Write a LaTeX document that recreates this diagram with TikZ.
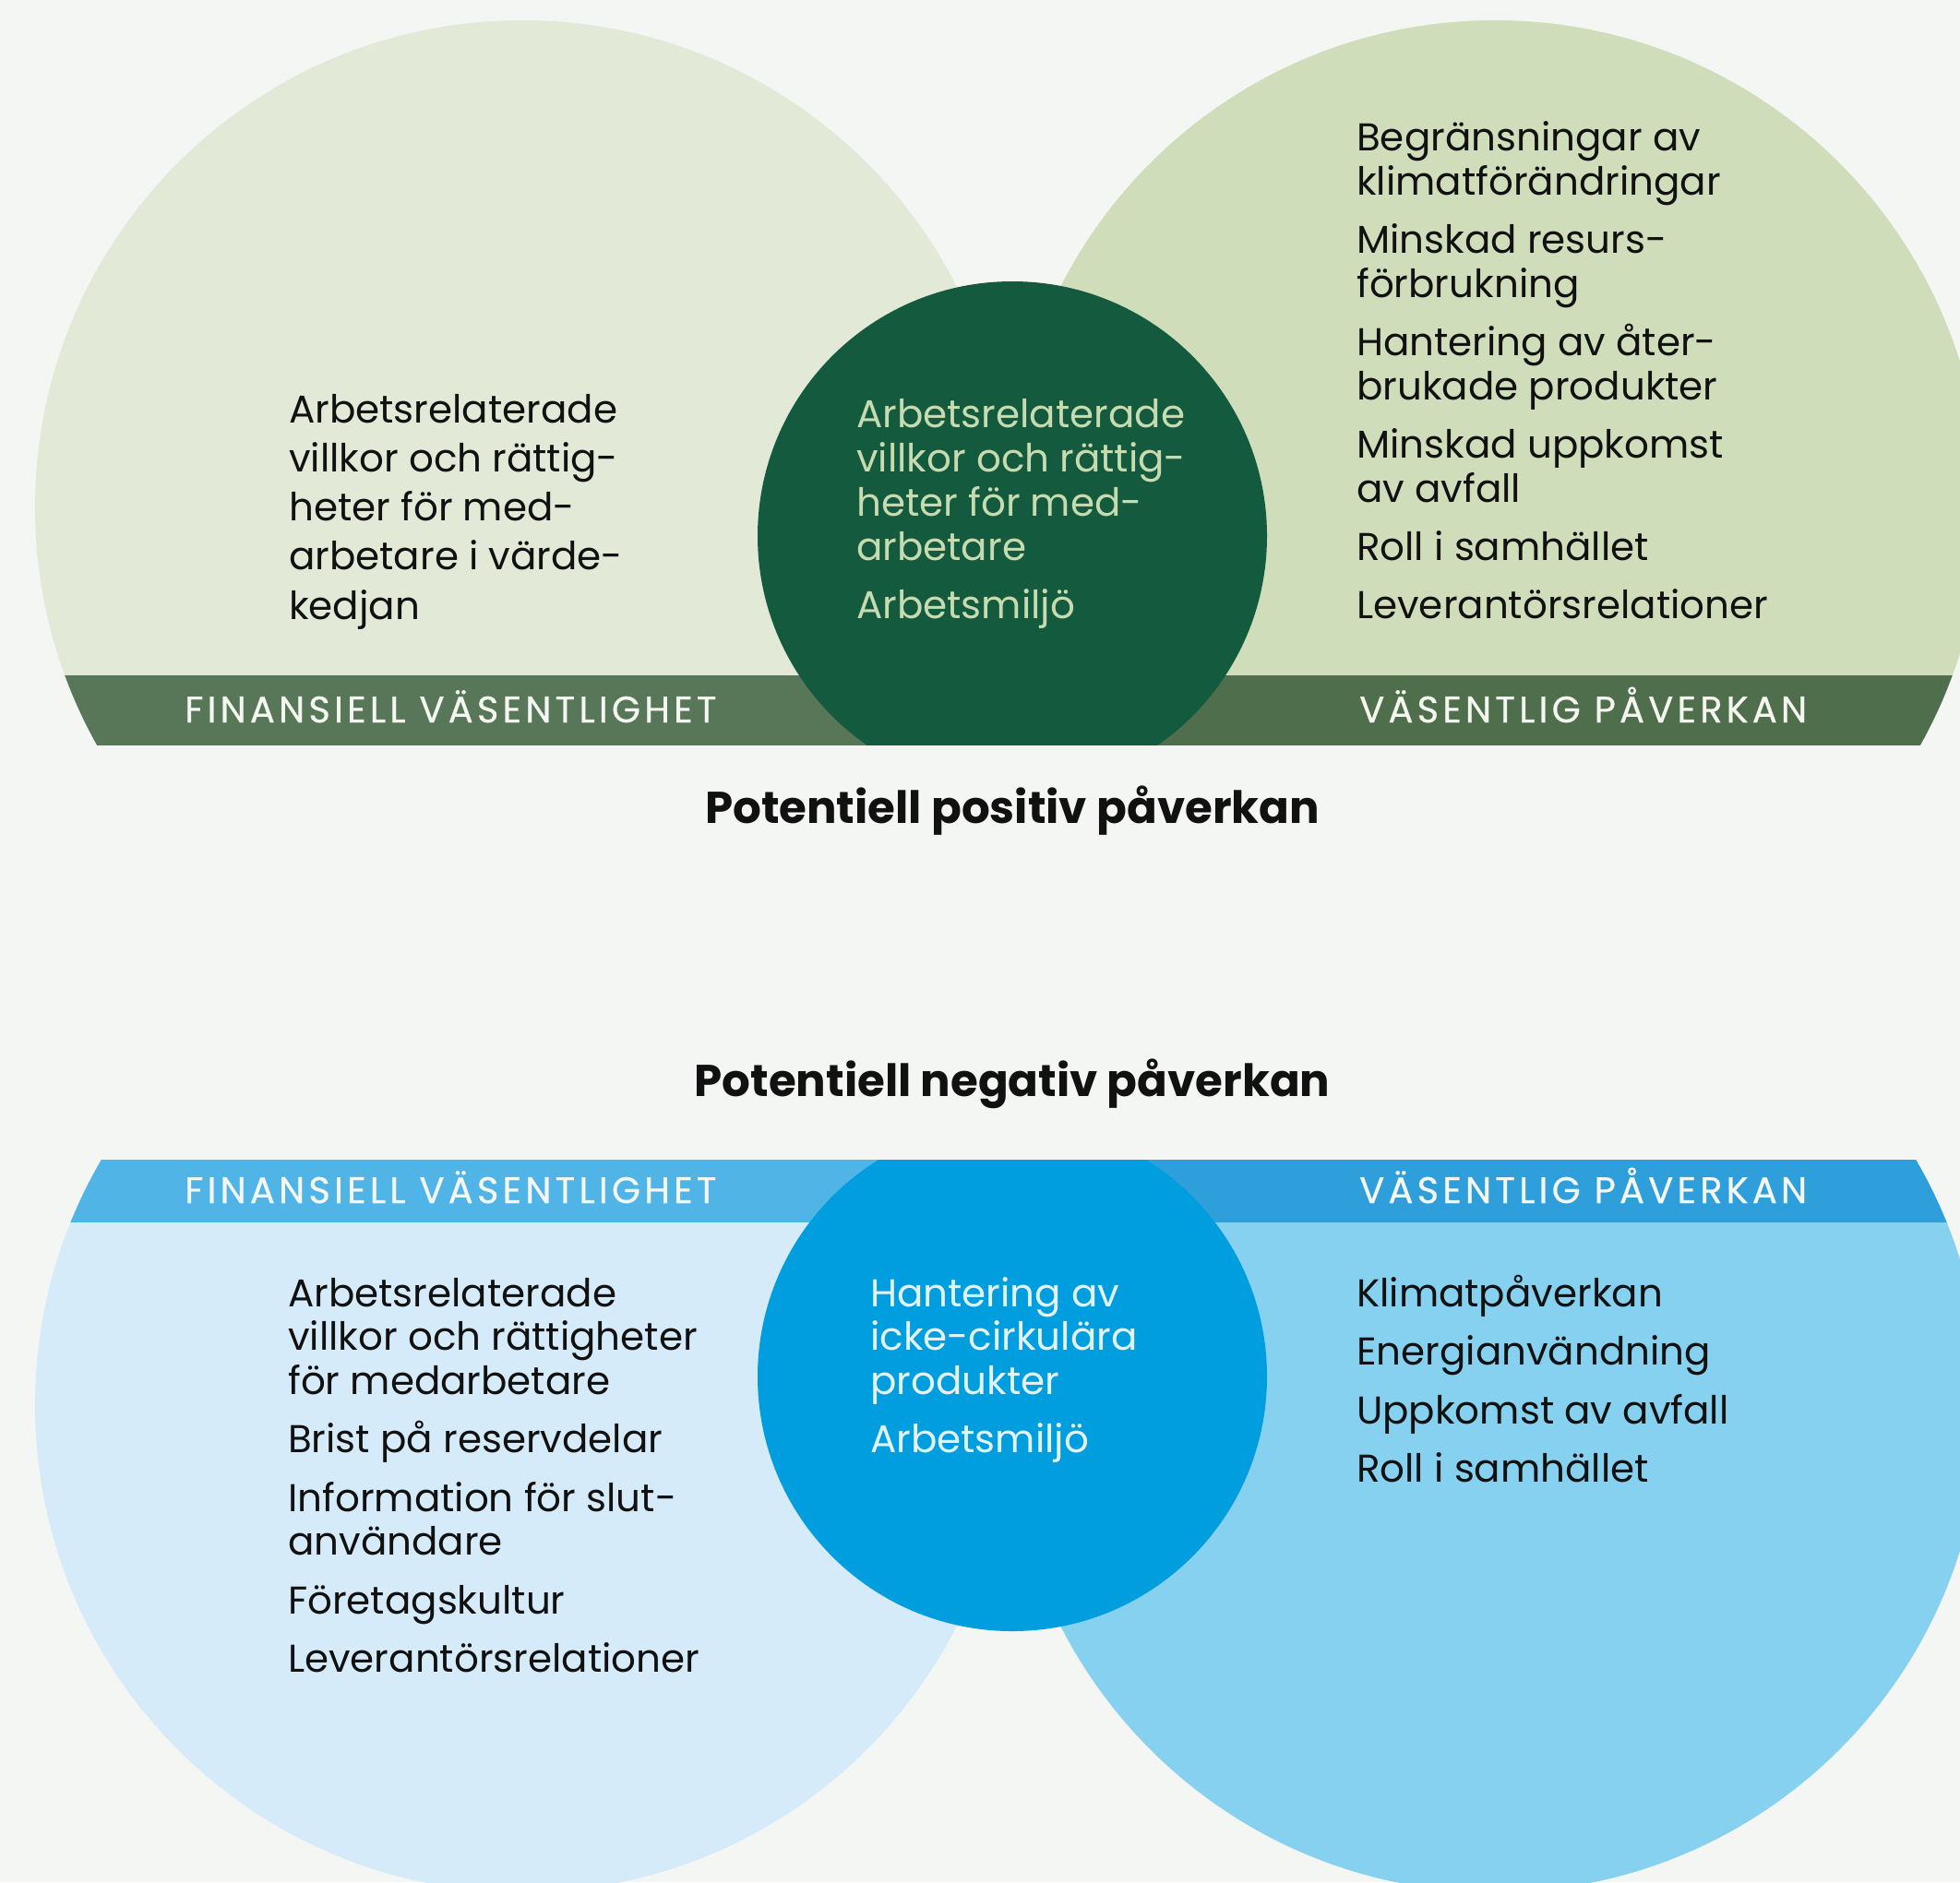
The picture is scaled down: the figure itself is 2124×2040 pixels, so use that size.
\documentclass[tikz,border=0pt]{standalone}
\usepackage{fontspec}
\setmainfont{Poppins}
\newfontfamily\bandfont{Poppins}[LetterSpace=10.5,FakeBold=0.6]
\definecolor{bgc}{HTML}{F4F6F3}
\definecolor{tlc}{HTML}{E2E9D6}
\definecolor{trc}{HTML}{CFDDBA}
\definecolor{tmidc}{HTML}{135A3F}
\definecolor{tlband}{HTML}{587658}
\definecolor{trband}{HTML}{4F6E4C}
\definecolor{tmidtext}{HTML}{C7DBB0}
\definecolor{blc}{HTML}{D5EBF9}
\definecolor{brc}{HTML}{86D0F0}
\definecolor{bmidc}{HTML}{019EDF}
\definecolor{blband}{HTML}{50B5E6}
\definecolor{brband}{HTML}{2F9FDC}
\definecolor{bmidtext}{HTML}{E3F3FB}
\definecolor{bandwhite}{HTML}{F4F6F0}
\definecolor{ink}{HTML}{111111}
\tikzset{
  body/.style={inner sep=0pt, anchor=base west, text=ink, font=\fontsize{42}{48}\selectfont},
  titletxt/.style={inner sep=0pt, anchor=base, text=ink, font=\fontsize{48.3}{56}\selectfont\bfseries},
  bandtxt/.style={inner sep=0pt, anchor=base west, text=bandwhite, font=\bandfont\fontsize{40}{42}\selectfont},
}
\begin{document}
\begin{tikzpicture}[x=1pt,y=-1pt]
\useasboundingbox (0,0) rectangle (2124,2040);
\fill[bgc] (0,0) rectangle (2124,2040);
% ---------- top diagram ----------
\begin{scope}
  \clip (0,0) rectangle (2124,732);
  \fill[tlc] (566,550) circle[radius=528pt];
  \fill[trc] (1620,550) circle[radius=528pt];
\end{scope}
\begin{scope}
  \clip (0,732) rectangle (2124,807);
  \fill[tlband] (566,550) circle[radius=528pt];
  \fill[trband] (1620,550) circle[radius=528pt];
\end{scope}
\begin{scope}
  \clip (0,0) rectangle (2124,807);
  \fill[tmidc] (1097,581) circle[radius=276pt];
\end{scope}
% ---------- bottom diagram ----------
\begin{scope}
  \clip (0,1324) rectangle (2124,2040);
  \fill[blc] (566,1523) circle[radius=528pt];
  \fill[brc] (1620,1523) circle[radius=528pt];
\end{scope}
\begin{scope}
  \clip (0,1257) rectangle (2124,1324);
  \fill[blband] (566,1523) circle[radius=528pt];
  \fill[brband] (1620,1523) circle[radius=528pt];
\end{scope}
\begin{scope}
  \clip (0,1257) rectangle (2124,2040);
  \fill[bmidc] (1097,1492) circle[radius=276pt];
\end{scope}
% ---------- band labels ----------
\node[bandtxt] (b1) at (200,783) {FINANSIELL VÄSENTLIGHET};
\node[bandtxt] (b2) at (1473,783) {VÄSENTLIG PÅVERKAN};
\node[bandtxt] (b3) at (200,1304) {FINANSIELL VÄSENTLIGHET};
\node[bandtxt] (b4) at (1473,1304) {VÄSENTLIG PÅVERKAN};
% ---------- titles ----------
\node[titletxt] (t1) at (1097,892) {Potentiell positiv påverkan};
\node[titletxt] (t2) at (1097,1188) {Potentiell negativ påverkan};
% ---------- top texts ----------
\node[body] (tl) at (313,458) {\vtop{\baselineskip=53.3pt
  \hbox{Arbetsrelaterade}\hbox{villkor och rättig-}\hbox{heter för med-}\hbox{arbetare i värde-}\hbox{kedjan}}};
\node[body, text=tmidtext] (tm) at (928,463.5) {\vtop{\baselineskip=48pt
  \hbox{Arbetsrelaterade}\hbox{villkor och rättig-}\hbox{heter för med-}\hbox{arbetare}\vskip15pt
  \hbox{Arbetsmiljö}}};
\node[body] (tr) at (1470,163.6) {\vtop{\baselineskip=48pt
  \hbox{Begränsningar av}\hbox{klimatförändringar}\vskip15pt
  \hbox{Minskad resurs-}\hbox{förbrukning}\vskip15pt
  \hbox{Hantering av åter-}\hbox{brukade produkter}\vskip15pt
  \hbox{Minskad uppkomst}\hbox{av avfall}\vskip15pt
  \hbox{Roll i samhället}\vskip15pt
  \hbox{Leverantörsrelationer}}};
% ---------- bottom texts ----------
\node[body] (bl) at (312,1416) {\vtop{\baselineskip=47.5pt
  \hbox{Arbetsrelaterade}\hbox{villkor och rättigheter}\hbox{för medarbetare}\vskip16pt
  \hbox{Brist på reservdelar}\vskip16pt
  \hbox{Information för slut-}\hbox{användare}\vskip16pt
  \hbox{Företagskultur}\vskip16pt
  \hbox{Leverantörsrelationer}}};
\node[body, text=bmidtext] (bm) at (943,1416) {\vtop{\baselineskip=47.5pt
  \hbox{Hantering av}\hbox{icke-cirkulära}\hbox{produkter}\vskip16pt
  \hbox{Arbetsmiljö}}};
\node[body] (br) at (1470,1416) {\vtop{\baselineskip=47.5pt
  \hbox{Klimatpåverkan}\vskip16pt
  \hbox{Energianvändning}\vskip16pt
  \hbox{Uppkomst av avfall}\vskip16pt
  \hbox{Roll i samhället}}};
\end{tikzpicture}
\end{document}
